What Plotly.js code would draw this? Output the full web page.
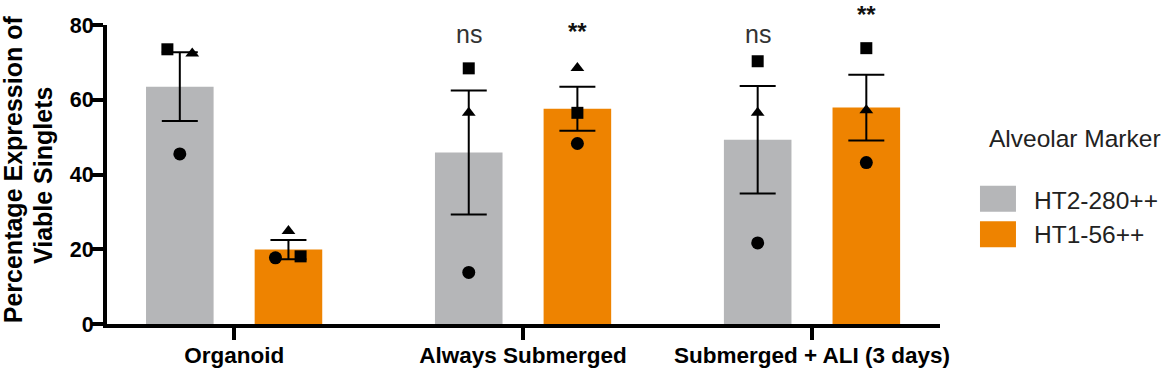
<!DOCTYPE html>
<html>
<head>
<meta charset="utf-8">
<script src="https://cdn.plot.ly/plotly-3.0.1.min.js"></script>
<style>html,body{margin:0;padding:0;background:#fff;}#chart{width:1162px;height:371px;}</style>
</head>
<body>
<div id="chart"></div>
<script>
// ---- data ----
const categories = ["Organoid", "Always Submerged", "Submerged + ALI (3 days)"];
const seriesNames = ["HT2-280++", "HT1-56++"];
const legendTitle = "Alveolar Marker";
const yTitleLines = ["Percentage Expression of", "Viable Singlets"];
const yRange = [0, 80];

// bar means and SEM
const ht2Mean = [63.5, 45.9, 49.3];
const ht2Sem  = [9.2, 16.6, 14.4];
const ht1Mean = [19.9, 57.6, 57.9];
const ht1Sem  = [2.6, 5.9, 8.8];

// replicate points (square, triangle, circle)
const ht2Square   = [73.5, 68.4, 70.3];
const ht2Triangle = [72.4, 56.5, 56.5];
const ht2Circle   = [45.5, 13.8, 21.7];
const ht1Square   = [18.1, 56.5, 73.8];
const ht1Triangle = [24.9, 68.5, 57.2];
const ht1Circle   = [17.7, 48.3, 43.2];

// significance labels above each bar
const ht2Sig = ["", "ns", "ns"];
const ht1Sig = ["", "**", "**"];
const ht2SigY = [null, 77.7, 77.7];
const ht1SigY = [null, 78.3, 82.9];

// ---- styling ----
const colors = ["#B5B6B8", "#EE8300"];
const FONT = "Arial, 'Liberation Sans', Helvetica, sans-serif";
const bargap = 0.248, bargroupgap = 0.378;
const half = (1 - bargap) / 4;               // centre offset of each bar in a group
const jitter = {                              // small horizontal spread of replicate dots
  ht2: {square: [-0.043, 0, 0], triangle: [0.043, 0, 0], circle: [0, 0, 0]},
  ht1: {square: [0.042, 0, 0], triangle: [0, 0, 0], circle: [-0.045, 0, 0]}
};
const idx = categories.map((_, i) => i);
const toPaperY = v => (v - yRange[0]) / (yRange[1] - yRange[0]);

function barTrace(name, mean, sem, color) {
  return {
    type: "bar", name: name, x: idx, y: mean,
    marker: {color: color, line: {width: 0}},
    error_y: {type: "data", array: sem, visible: true, color: "#000", thickness: 2, width: 18},
    showlegend: false, hoverinfo: "y"
  };
}
function dotTrace(vals, center, jit, symbol, size) {
  return {
    type: "scatter", mode: "markers",
    x: idx.map(i => i + center + jit[i]), y: vals,
    marker: {symbol: symbol, size: size, color: "#000"},
    showlegend: false, hoverinfo: "y", cliponaxis: false
  };
}

const data = [
  barTrace(seriesNames[0], ht2Mean, ht2Sem, colors[0]),
  barTrace(seriesNames[1], ht1Mean, ht1Sem, colors[1]),
  dotTrace(ht2Square, -half, jitter.ht2.square, "square", 12),
  dotTrace(ht2Triangle, -half, jitter.ht2.triangle, "triangle-up", 12),
  dotTrace(ht2Circle, -half, jitter.ht2.circle, "circle", 13),
  dotTrace(ht1Square, half, jitter.ht1.square, "square", 12),
  dotTrace(ht1Triangle, half, jitter.ht1.triangle, "triangle-up", 12),
  dotTrace(ht1Circle, half, jitter.ht1.circle, "circle", 13)
];

const annotations = [];
idx.forEach(i => {
  if (ht2Sig[i]) annotations.push({x: i - half, y: toPaperY(ht2SigY[i]), xref: "x", yref: "paper",
    xanchor: "center", yanchor: "middle", text: ht2Sig[i], showarrow: false,
    font: {family: FONT, size: 25, color: "#333"}});
  if (ht1Sig[i]) annotations.push({x: i + half, y: toPaperY(ht1SigY[i]), xref: "x", yref: "paper",
    xanchor: "center", yanchor: "middle", text: ht1Sig[i], showarrow: false,
    font: {family: FONT, size: 24, color: "#111", weight: "bold"}});
});
// y-axis title, two rotated lines
const titleX = [-0.1134, -0.0768], titleY = [0.516, 0.495];
yTitleLines.forEach((t, k) => annotations.push({
  x: titleX[k], y: titleY[k], xref: "paper", yref: "paper", xanchor: "center", yanchor: "middle",
  text: t, textangle: -90, showarrow: false, font: {family: FONT, size: 25, color: "#000", weight: "bold"}
}));
// custom legend (large swatches as in the reference)
annotations.push({x: 1.0564, y: 0.622, xref: "paper", yref: "paper", xanchor: "left", yanchor: "middle",
  text: legendTitle, showarrow: false, font: {family: FONT, size: 24.5, color: "#222"}});
const legendTextY = [0.4147, 0.2977];
const legendBoxY = [0.419, 0.3003];
const shapes = [];
seriesNames.forEach((n, k) => {
  annotations.push({x: 1.1104, y: legendTextY[k], xref: "paper", yref: "paper", xanchor: "left", yanchor: "middle",
    text: n, showarrow: false, font: {family: FONT, size: 24.5, color: "#222"}});
  shapes.push({type: "rect", xref: "paper", yref: "paper", x0: 1.048, x1: 1.0912,
    y0: legendBoxY[k] - 0.0435, y1: legendBoxY[k] + 0.0435, fillcolor: colors[k], line: {width: 0}});
});

const layout = {
  width: 1162, height: 371,
  margin: {l: 107, r: 222, t: 25, b: 47, pad: 0},
  paper_bgcolor: "#fff", plot_bgcolor: "#fff",
  barmode: "group", bargap: bargap, bargroupgap: bargroupgap,
  showlegend: false,
  font: {family: FONT, color: "#000"},
  xaxis: {
    range: [-0.44, 2.443], tickvals: idx, ticktext: categories,
    showline: true, linewidth: 4, linecolor: "#000",
    ticks: "outside", ticklen: 12, tickwidth: 4, tickcolor: "#000",
    ticklabelstandoff: -4,
    showgrid: false, zeroline: false, fixedrange: true,
    tickfont: {family: FONT, size: 22.5, color: "#000", weight: "bold"}
  },
  yaxis: {
    range: yRange, dtick: 20, tick0: 0,
    showline: true, linewidth: 4, linecolor: "#000",
    ticks: "outside", ticklen: 11, tickwidth: 4, tickcolor: "#000",
    ticklabelstandoff: -6,
    showgrid: false, zeroline: false, fixedrange: true,
    tickfont: {family: FONT, size: 21.5, color: "#000", weight: "bold"}
  },
  annotations: annotations,
  shapes: shapes
};

Plotly.newPlot("chart", data, layout, {displayModeBar: false, staticPlot: true});
</script>
</body>
</html>
